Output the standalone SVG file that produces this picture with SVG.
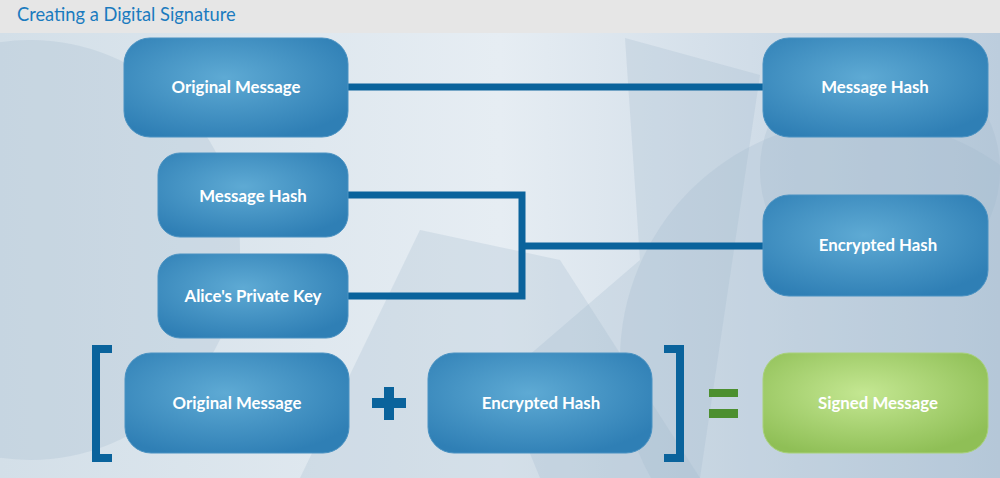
<svg xmlns="http://www.w3.org/2000/svg" width="1000" height="478" viewBox="0 0 1000 478">
  <defs>
    <linearGradient id="bg" x1="0" y1="0" x2="1" y2="0">
      <stop offset="0" stop-color="#d3dfe8"/>
      <stop offset="0.5" stop-color="#e6edf3"/>
      <stop offset="1" stop-color="#bccddd"/>
    </linearGradient>
    <radialGradient id="blue" cx="0.45" cy="0.4" r="0.65">
      <stop offset="0" stop-color="#5eaad4"/>
      <stop offset="1" stop-color="#2f7fb5"/>
    </radialGradient>
    <radialGradient id="green" cx="0.45" cy="0.4" r="0.65">
      <stop offset="0" stop-color="#c4e792"/>
      <stop offset="1" stop-color="#8fbf56"/>
    </radialGradient>
    <style>
      .box{fill:url(#blue);stroke:#4a92c2;stroke-width:1}
      .gbox{fill:url(#green);stroke:#a8d17a;stroke-width:1}
      .lbl{font-family:Lato,"Open Sans","Liberation Sans",sans-serif;font-weight:bold;font-size:16.8px;fill:#ffffff;text-anchor:middle}
      .conn{fill:none;stroke:#0a639c;stroke-width:7}
      .sym{fill:#0a639c}
      .eq{fill:#4c8f2f}
      .shape{fill:#9fb6cc;opacity:0.25}
    </style>
  </defs>
  <rect x="0" y="0" width="1000" height="478" fill="url(#bg)"/>
  <g id="background">
    <circle class="shape" cx="30" cy="250" r="210"/>
    <circle class="shape" cx="880" cy="170" r="120"/>
    <polygon class="shape" points="625,38 760,75 700,478 540,478 500,380 640,260"/>
    <polygon class="shape" points="300,478 420,230 560,260 700,478"/>
    <circle class="shape" cx="860" cy="360" r="240" opacity="0.15"/>
  </g>
  <rect x="0" y="0" width="1000" height="33" fill="#e6e6e6"/>
  <text x="17" y="21" font-family="Lato,'Open Sans','Liberation Sans',sans-serif" font-size="18.3" fill="#1a7bbf">Creating a Digital Signature</text>

  <g id="connectors">
    <line class="conn" x1="348" y1="87" x2="764" y2="87"/>
    <polyline class="conn" points="348,195 522,195 522,296 348,296"/>
    <line class="conn" x1="522" y1="246" x2="764" y2="246"/>
  </g>

  <g id="n-original-top">
    <rect class="box" x="124" y="38" width="224" height="99" rx="26"/>
    <text class="lbl" x="236" y="93">Original Message</text>
  </g>
  <g id="n-hash-top">
    <rect class="box" x="763" y="38" width="225" height="99" rx="26"/>
    <text class="lbl" x="875" y="93">Message Hash</text>
  </g>
  <g id="n-hash-mid">
    <rect class="box" x="158" y="153" width="190" height="84" rx="22"/>
    <text class="lbl" x="253" y="202">Message Hash</text>
  </g>
  <g id="n-private-key">
    <rect class="box" x="158" y="254" width="190" height="84" rx="22"/>
    <text class="lbl" x="253" y="302">Alice's Private Key</text>
  </g>
  <g id="n-encrypted-mid">
    <rect class="box" x="763" y="195" width="225" height="101" rx="26"/>
    <text class="lbl" x="878" y="251">Encrypted Hash</text>
  </g>

  <g id="bracket-left">
    <path class="sym" d="M92,345 H112 V353 H100 V454 H112 V462 H92 Z"/>
  </g>
  <g id="n-original-bottom">
    <rect class="box" x="125" y="353" width="224" height="100" rx="26"/>
    <text class="lbl" x="237" y="409">Original Message</text>
  </g>
  <g id="plus">
    <path class="sym" d="M384,387 H394 V398 H406 V408 H394 V420 H384 V408 H372 V398 H384 Z"/>
  </g>
  <g id="n-encrypted-bottom">
    <rect class="box" x="428" y="353" width="224" height="100" rx="26"/>
    <text class="lbl" x="541" y="409">Encrypted Hash</text>
  </g>
  <g id="bracket-right">
    <path class="sym" d="M664,345 H684 V462 H664 V454 H676 V353 H664 Z"/>
  </g>
  <g id="equals">
    <rect class="eq" x="709" y="389" width="29" height="8"/>
    <rect class="eq" x="709" y="409" width="29" height="9"/>
  </g>
  <g id="n-signed">
    <rect class="gbox" x="763" y="353" width="225" height="100" rx="26"/>
    <text class="lbl" x="878" y="409">Signed Message</text>
  </g>
</svg>
